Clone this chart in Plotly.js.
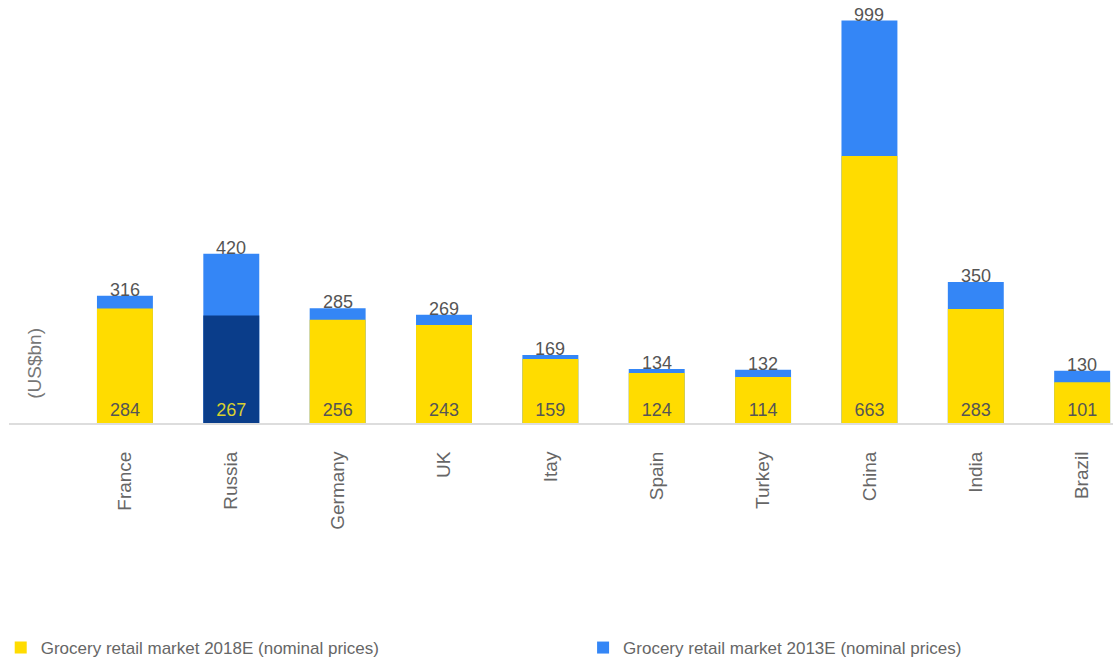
<!DOCTYPE html>
<html>
<head>
<meta charset="utf-8">
<script src="https://cdn.plot.ly/plotly-3.0.1.min.js"></script>
<style>html,body{margin:0;padding:0;background:#fff;}#chart{width:1113px;height:666px;}</style>
</head>
<body>
<div id="chart"></div>
<script>
const countries = ["France","Russia","Germany","UK","Itay","Spain","Turkey","China","India","Brazil"];
const market2018 = [284, 267, 256, 243, 159, 124, 114, 663, 283, 101];
const market2013 = [316, 420, 285, 269, 169, 134, 132, 999, 350, 130];
const highlighted = "Russia";

const YELLOW = "#ffdc00", NAVY = "#0a3d8a", BLUE = "#3486f6";
const FONT = "Liberation Sans, Arial, sans-serif";

const yellowColors = countries.map(c => c === highlighted ? NAVY : YELLOW);
const labelColors = countries.map(c => c === highlighted ? "#d8d030" : "#555555");

const traceBlue = {
  type: "bar", x: countries, y: market2013,
  name: "Grocery retail market 2013E (nominal prices)",
  legend: "legend2",
  marker: {color: BLUE},
  hoverinfo: "x+y"
};
const traceYellow = {
  type: "bar", x: countries, y: market2018,
  name: "Grocery retail market 2018E (nominal prices)",
  legend: "legend",
  marker: {color: yellowColors},
  text: market2018.map(String),
  textposition: "inside",
  insidetextanchor: "start",
  textangle: 0,
  constraintext: "none",
  textfont: {family: FONT, size: 18, color: labelColors},
  hoverinfo: "x+y"
};

const topLabels = countries.map((c, i) => ({
  x: c, y: market2013[i], xref: "x", yref: "y",
  text: String(market2013[i]), showarrow: false,
  yanchor: "bottom", yshift: -6,
  font: {family: FONT, size: 18, color: "#555555"}
}));

const legendFont = {family: FONT, size: 17, color: "#666666"};

const layout = {
  width: 1113, height: 666,
  margin: {l: 9, r: 0, t: 0, b: 241},
  paper_bgcolor: "#ffffff", plot_bgcolor: "#ffffff",
  barmode: "overlay",
  bargap: 0.474,
  showlegend: true,
  legend: {
    orientation: "h",
    x: -0.0075, xanchor: "left", y: -0.49, yanchor: "top",
    font: legendFont, itemclick: false
  },
  legend2: {
    orientation: "h",
    x: 0.52, xanchor: "left", y: -0.49, yanchor: "top",
    font: legendFont, itemclick: false
  },
  xaxis: {
    type: "category", automargin: false,
    range: [-1.09, 9.29],
    showgrid: false, zeroline: false,
    showline: true, linecolor: "#dddddd", linewidth: 2,
    ticks: "", tickangle: -90, ticklabelstandoff: 19,
    tickfont: {family: FONT, size: 19, color: "#666666"}
  },
  yaxis: {
    range: [0, 1050], automargin: false,
    showgrid: false, zeroline: false, showline: false,
    showticklabels: false, ticks: ""
  },
  annotations: topLabels.concat([{
    xref: "paper", yref: "paper", x: 0, y: 0.14,
    xanchor: "center", yanchor: "middle",
    text: "(US$bn)", textangle: -90, showarrow: false,
    xshift: 26,
    font: {family: FONT, size: 19, color: "#777777"}
  }])
};

Plotly.newPlot("chart", [traceBlue, traceYellow], layout, {displayModeBar: false, staticPlot: true});
</script>
</body>
</html>
